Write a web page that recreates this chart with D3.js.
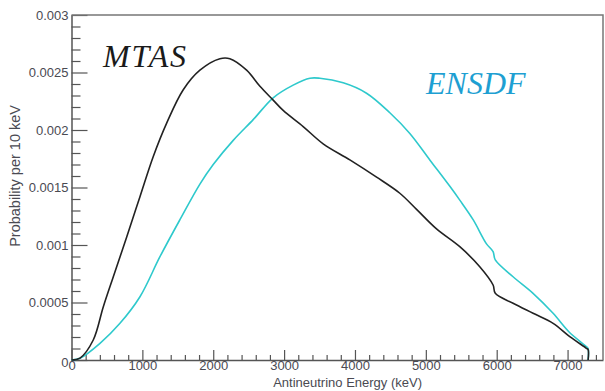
<!DOCTYPE html>
<html>
<head>
<meta charset="utf-8">
<script src="https://cdn.jsdelivr.net/npm/d3@7"></script>
<style>
  body { margin: 0; background: #fff; }
</style>
</head>
<body>
<div id="chart"></div>
<script>
// spectrum values (energy in keV, probability per 10 keV)
const mtasEnergy = [0, 120, 307, 449, 590, 779, 966, 1154, 1343, 1577, 1812, 2094, 2235, 2471, 2659, 2846, 2987, 3269, 3551, 3928, 4305, 4633, 4869, 5151, 5479, 5761, 5949, 5980, 6231, 6513, 6796, 7031, 7266, 7290, 7290];
const mtasProb   = [0, 0.000017, 0.000174, 0.000463, 0.000724, 0.00107, 0.00142, 0.00177, 0.00206, 0.00235, 0.00252, 0.00262, 0.00262, 0.00252, 0.00238, 0.00226, 0.00217, 0.00203, 0.00188, 0.00174, 0.00159, 0.00145, 0.00131, 0.00114, 0.000985, 0.000811, 0.000652, 0.00058, 0.000493, 0.000406, 0.000319, 0.000203, 0.000102, 0.00009, 0];

const ensdfEnergy = [0, 120, 402, 684, 966, 1248, 1530, 1812, 2000, 2282, 2564, 2846, 3128, 3364, 3505, 3834, 4163, 4492, 4774, 5056, 5339, 5479, 5667, 5856, 5949, 5980, 6231, 6513, 6796, 7018, 7266, 7290, 7290];
const ensdfProb   = [0, 0.000015, 0.000145, 0.000319, 0.00055, 0.000898, 0.00122, 0.00153, 0.00170, 0.00191, 0.00209, 0.00228, 0.00239, 0.00245, 0.00245, 0.00241, 0.00232, 0.00215, 0.00197, 0.00174, 0.00151, 0.00139, 0.00122, 0.00101, 0.000942, 0.00087, 0.000724, 0.00058, 0.000406, 0.000246, 0.000116, 0.0001, 0];

const xMajor = [0, 1000, 2000, 3000, 4000, 5000, 6000, 7000];
const yMajor = [0, 0.0005, 0.001, 0.0015, 0.002, 0.0025, 0.003];

const width = 605, height = 391;
const margin = { top: 15, right: 2, bottom: 31, left: 71.5 };
const sans = "'Liberation Sans', Arial, sans-serif";
const serif = "'Liberation Serif', 'Times New Roman', serif";

const svg = d3.select("#chart")
  .append("svg")
  .attr("width", width)
  .attr("height", height);

const xScale = d3.scaleLinear()
  .domain([0, 7500])
  .range([margin.left, width - margin.right]);

const yScale = d3.scaleLinear()
  .domain([0, 0.003])
  .range([height - margin.bottom, margin.top]);

// minor ticks
const xMinor = d3.range(0, 7500, 200).filter(v => v % 1000 !== 0);
const yMinor = d3.range(1, 30).filter(i => i % 5 !== 0).map(i => i / 10000);

svg.append("g")
  .attr("transform", `translate(0,${height - margin.bottom})`)
  .call(d3.axisBottom(xScale).tickValues(xMinor).tickSize(-5).tickSizeOuter(0).tickFormat(""))
  .call(g => g.select(".domain").remove());

svg.append("g")
  .attr("transform", `translate(${margin.left},0)`)
  .call(d3.axisLeft(yScale).tickValues(yMinor).tickSize(-9).tickSizeOuter(0).tickFormat(""))
  .call(g => g.select(".domain").remove());

// major ticks with labels
const xAxis = svg.append("g")
  .attr("transform", `translate(0,${height - margin.bottom})`)
  .call(d3.axisBottom(xScale).tickValues(xMajor).tickSize(-10).tickSizeOuter(0).tickPadding(1)
    .tickFormat(d => String(d)))
  .attr("font-family", sans)
  .attr("font-size", "13px");

const yAxis = svg.append("g")
  .attr("transform", `translate(${margin.left},0)`)
  .call(d3.axisLeft(yScale).tickValues(yMajor).tickSize(-16).tickSizeOuter(0).tickPadding(3)
    .tickFormat(d => String(d)))
  .attr("font-family", sans)
  .attr("font-size", "13px");

svg.selectAll(".tick line").attr("stroke", "#555").attr("stroke-width", 1.2);
svg.selectAll(".domain").attr("stroke", "#555").attr("stroke-width", 1.5);
svg.selectAll(".tick text").attr("fill", "#4a4a52");

// the zero labels sit a bit apart in the original
yAxis.selectAll(".tick text").filter(d => d === 0).attr("dy", "0.5em");

// frame top and right
svg.append("path")
  .attr("d", `M${margin.left},${margin.top}H${width - margin.right}V${height - margin.bottom}`)
  .attr("fill", "none")
  .attr("stroke", "#777")
  .attr("stroke-width", 1.5);

// curves
const line = d3.line()
  .curve(d3.curveCatmullRom.alpha(0.5))
  .x(d => xScale(d[0]))
  .y(d => yScale(d[1]));

svg.append("path")
  .datum(ensdfEnergy.map((e, i) => [e, ensdfProb[i]]))
  .attr("d", line)
  .attr("fill", "none")
  .attr("stroke", "#2ec9cc")
  .attr("stroke-width", 1.6);

svg.append("path")
  .datum(mtasEnergy.map((e, i) => [e, mtasProb[i]]))
  .attr("d", line)
  .attr("fill", "none")
  .attr("stroke", "#222")
  .attr("stroke-width", 1.6);

// axis titles
svg.append("text")
  .attr("x", 422)
  .attr("y", 387)
  .attr("text-anchor", "end")
  .attr("font-family", sans)
  .attr("font-size", "13px")
  .attr("fill", "#4a4a52")
  .text("Antineutrino Energy (keV)");

svg.append("text")
  .attr("transform", "translate(20,105) rotate(-90)")
  .attr("text-anchor", "end")
  .attr("font-family", sans)
  .attr("font-size", "14.5px")
  .attr("fill", "#4a4a52")
  .text("Probability per 10 keV");

// series labels
svg.append("text")
  .attr("x", 103)
  .attr("y", 67)
  .attr("font-family", serif)
  .attr("font-style", "italic")
  .attr("font-size", "32px")
  .attr("fill", "#1a1a1a")
  .attr("textLength", 83)
  .text("MTAS");

svg.append("text")
  .attr("x", 426)
  .attr("y", 94)
  .attr("font-family", serif)
  .attr("font-style", "italic")
  .attr("font-size", "32px")
  .attr("fill", "#1e9fd2")
  .text("ENSDF");
</script>
</body>
</html>
